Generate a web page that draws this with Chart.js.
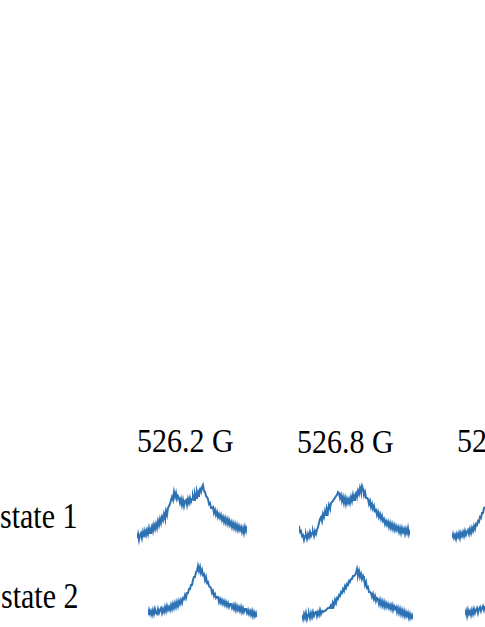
<!DOCTYPE html>
<html>
<head>
<meta charset="utf-8">
<script src="https://cdn.jsdelivr.net/npm/chart.js@4/dist/chart.umd.min.js"></script>
<style>
  html, body { margin: 0; padding: 0; background: #fff; }
  body { width: 485px; height: 627px; position: relative; overflow: hidden; }
  .lbl { position: absolute; font-family: "Liberation Serif", Tinos, "Times New Roman", serif; font-size: 30px; color: #000; white-space: nowrap; line-height: 30px; transform-origin: 0 25px; }
  .head { transform: scaleY(1.12); }
  .row { transform: scaleY(1.22); }
  .box { position: absolute; }
</style>
</head>
<body>

<div class="lbl head" style="left:137px; top:427px;">526.2 G</div>
<div class="lbl head" style="left:297px; top:428px;">526.8 G</div>
<div class="lbl head" style="left:457px; top:427px;">527.4 G</div>
<div class="lbl row" style="left:0px; top:503px;">state 1</div>
<div class="lbl row" style="left:1px; top:583px;">state 2</div>

<div class="box" style="left:137px; top:480px; width:110px; height:65px;"><canvas id="s1a"></canvas></div>
<div class="box" style="left:299px; top:480px; width:111px; height:65px;"><canvas id="s1b"></canvas></div>
<div class="box" style="left:452px; top:480px; width:33px; height:65px;"><canvas id="s1c"></canvas></div>
<div class="box" style="left:148px; top:560px; width:109px; height:65px;"><canvas id="s2a"></canvas></div>
<div class="box" style="left:302px; top:560px; width:111px; height:65px;"><canvas id="s2b"></canvas></div>
<div class="box" style="left:465px; top:560px; width:20px; height:65px;"><canvas id="s2c"></canvas></div>

<script>
// column headers (field) and row names
const fields = ["526.2 G", "526.8 G", "527.4 G"];
const states = ["state 1", "state 2"];

// signal, one sample per pixel column
const state1_5262 = [7,11,5,10,12,7,13,8,14,
  10,15,11,17,12,16,19,14,20,16,
  21,17,24,20,26,22,28,25,31,27,
  34,30,37,39,41,
  45,48,45,53,
  48,52,46,49,
  47,42,46,40,45,39,44,
  45,40,46,42,47,43,46,
  49,45,51,47,53,49,
  54,56,53,58,60,
  54,53,49,48,
  46,41,42,37,37,
  38,32,35,30,33,28,31,27,
  30,25,28,23,27,22,26,21,25,20,
  23,18,22,17,21,16,20,15,19,15,
  18,13,17,12,18,14,19];

const state1_5268 = [19,13,14,9,10,5,9,
  10,6,11,8,13,9,12,
  13,9,14,11,15,
  18,22,26,
  28,24,31,28,34,30,36,33,40,37,
  42,43,44,46,47,49,50,53,
  52,47,50,44,48,42,47,41,46,42,
  46,42,48,44,50,45,50,
  52,48,54,51,57,53,59,
  56,50,53,47,47,
  46,41,44,38,41,36,39,34,
  35,30,33,28,31,26,29,24,
  26,21,24,20,23,18,22,17,21,16,20,15,19,15,
  18,13,17,12,17,13,16,11,16,12,17,11,15];

const state1_5274 = [7,11,7,10,6,11,8,12,7,12,9,13,9,14,10,13,15,11,16,12,17,14,19,16,21,20,24,23,28,27,32,32,37,38];

const state2_5262 = [10,15,11,14,10,15,11,16,12,11,16,12,15,
  17,12,16,13,18,14,19,15,18,15,
  20,16,21,17,22,18,23,19,24,21,
  25,22,27,26,30,27,32,32,
  36,36,40,40,45,
  48,48,53,54,59,
  54,58,52,55,50,
  51,45,48,42,43,39,38,
  37,32,34,29,31,27,28,
  28,23,26,22,25,21,24,20,23,19,22,18,21,
  21,17,20,16,20,15,19,15,18,14,18,13,17,13,16,
  16,12,15,11,14,10,14,9,13,9,12,8];

const state2_5268 = [10,6,11,7,12,6,10,11,7,12,8,13,9,12,
  14,9,13,10,15,11,14,13,
  14,14,15,16,17,17,18,
  20,17,22,20,25,22,27,26,30,29,
  33,32,36,34,39,37,41,40,44,43,
  46,46,49,49,50,52,56,
  50,54,48,51,46,49,
  46,40,43,37,38,33,33,
  32,28,31,26,29,24,27,
  26,21,25,20,24,19,23,18,22,18,21,17,20,16,20,15,19,16,
  18,13,17,12,16,11,15,10,14,9,13,9,12,7,11,7,10,6];

const state2_5274 = [10,14,9,15,11,14,10,15,11,16,12,15,17,12,16,18,14,17,19,15,19];

const traceColor = "#2e72b4";

function spectrum(id, values) {
  const ctx = document.getElementById(id).getContext('2d');
  new Chart(ctx, {
    type: "line",
    data: {
      labels: values.map((_, i) => i),
      datasets: [{
        data: values,
        borderColor: traceColor,
        borderWidth: 2,
        pointRadius: 0,
        tension: 0,
        fill: false
      }]
    },
    options: {
      responsive: true,
      maintainAspectRatio: false,
      animation: false,
      layout: { padding: 0 },
      plugins: { legend: { display: false }, tooltip: { enabled: false } },
      scales: {
        x: { display: false, offset: false },
        y: { display: false, min: 0, max: 65 }
      }
    }
  });
}

spectrum("s1a", state1_5262);
spectrum("s1b", state1_5268);
spectrum("s1c", state1_5274);
spectrum("s2a", state2_5262);
spectrum("s2b", state2_5268);
spectrum("s2c", state2_5274);
</script>
</body>
</html>
